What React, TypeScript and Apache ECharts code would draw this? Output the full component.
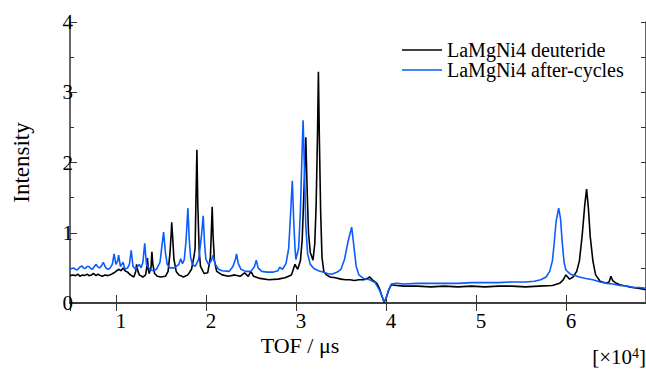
import React, { useEffect, useRef } from "react";
import * as echarts from "echarts";

const FONT = "Liberation Serif, Times New Roman, serif";

const seriesNames = ["LaMgNi4 deuteride", "LaMgNi4 after-cycles"];
const xTitle = "TOF / μs";
const yTitle = "Intensity";

// TOF (x10^4 μs), intensity
const deuteride: [number, number][] = [
  [0.49, 0.39], [0.52, 0.40], [0.55, 0.39], [0.58, 0.41], [0.60, 0.38], [0.63, 0.40],
  [0.65, 0.39], [0.68, 0.41], [0.70, 0.39], [0.73, 0.40], [0.75, 0.42], [0.78, 0.39],
  [0.80, 0.41], [0.83, 0.39], [0.85, 0.38], [0.88, 0.40], [0.90, 0.39], [0.93, 0.40],
  [0.95, 0.41], [0.98, 0.43], [1.00, 0.45], [1.03, 0.48], [1.06, 0.46], [1.08, 0.50],
  [1.10, 0.46], [1.13, 0.44], [1.16, 0.40], [1.20, 0.37], [1.22, 0.45], [1.23, 0.55],
  [1.245, 0.45], [1.26, 0.40], [1.30, 0.37], [1.33, 0.40], [1.345, 0.52], [1.35, 0.64],
  [1.36, 0.48], [1.37, 0.42], [1.39, 0.50], [1.40, 0.73], [1.41, 0.55], [1.43, 0.42],
  [1.46, 0.38], [1.50, 0.37], [1.55, 0.38], [1.58, 0.45], [1.60, 0.70], [1.615, 1.00],
  [1.62, 1.15], [1.63, 0.95], [1.645, 0.62], [1.67, 0.45], [1.70, 0.40], [1.75, 0.37],
  [1.80, 0.40], [1.84, 0.48], [1.87, 0.68], [1.88, 0.78], [1.89, 1.50], [1.90, 2.18],
  [1.91, 1.40], [1.925, 0.75], [1.94, 0.52], [1.98, 0.42], [2.02, 0.43], [2.05, 0.65],
  [2.06, 1.00], [2.07, 1.37], [2.08, 0.95], [2.095, 0.60], [2.12, 0.45], [2.18, 0.40],
  [2.25, 0.38], [2.32, 0.40], [2.38, 0.38], [2.43, 0.43], [2.47, 0.38], [2.50, 0.45],
  [2.53, 0.38], [2.60, 0.35], [2.70, 0.33], [2.80, 0.34], [2.88, 0.36], [2.95, 0.40],
  [2.99, 0.55], [3.02, 0.48], [3.05, 0.60], [3.07, 0.90], [3.09, 1.60], [3.11, 2.36],
  [3.125, 1.60], [3.14, 1.00], [3.16, 0.72], [3.19, 0.61], [3.21, 0.85], [3.225, 1.40],
  [3.24, 2.40], [3.25, 3.29], [3.26, 2.40], [3.275, 1.30], [3.29, 0.65], [3.31, 0.45],
  [3.34, 0.40], [3.38, 0.37], [3.44, 0.36], [3.50, 0.34], [3.55, 0.33], [3.60, 0.33],
  [3.65, 0.32], [3.70, 0.33], [3.75, 0.33], [3.78, 0.34], [3.82, 0.37], [3.85, 0.33],
  [3.90, 0.28], [3.93, 0.20], [3.95, 0.12], [3.98, 0.01], [4.00, 0.06], [4.03, 0.18],
  [4.06, 0.26], [4.12, 0.25], [4.20, 0.24], [4.35, 0.24], [4.50, 0.23], [4.65, 0.24],
  [4.80, 0.23], [4.95, 0.24], [5.10, 0.23], [5.25, 0.24], [5.40, 0.24], [5.55, 0.23],
  [5.70, 0.24], [5.85, 0.25], [5.93, 0.28], [5.97, 0.33], [6.00, 0.40], [6.02, 0.37],
  [6.04, 0.34], [6.08, 0.37], [6.12, 0.45], [6.15, 0.60], [6.18, 0.95], [6.21, 1.40],
  [6.23, 1.62], [6.25, 1.35], [6.27, 0.95], [6.30, 0.60], [6.33, 0.40], [6.38, 0.31],
  [6.45, 0.28], [6.48, 0.30], [6.50, 0.38], [6.52, 0.32], [6.56, 0.28], [6.60, 0.26],
  [6.70, 0.23], [6.80, 0.21], [6.89, 0.19],
];

const afterCycles: [number, number][] = [
  [0.49, 0.48], [0.51, 0.49], [0.53, 0.50], [0.55, 0.48], [0.57, 0.47], [0.60, 0.51],
  [0.62, 0.53], [0.64, 0.50], [0.66, 0.49], [0.68, 0.52], [0.70, 0.52], [0.72, 0.49],
  [0.74, 0.48], [0.76, 0.52], [0.78, 0.55], [0.80, 0.51], [0.82, 0.50], [0.84, 0.53],
  [0.86, 0.58], [0.88, 0.52], [0.89, 0.50], [0.91, 0.48], [0.93, 0.49], [0.96, 0.55],
  [0.98, 0.70], [1.00, 0.55], [1.02, 0.60], [1.03, 0.68], [1.05, 0.52], [1.08, 0.58],
  [1.10, 0.48], [1.13, 0.50], [1.15, 0.55], [1.17, 0.75], [1.19, 0.52], [1.22, 0.48],
  [1.26, 0.55], [1.28, 0.50], [1.30, 0.58], [1.32, 0.85], [1.34, 0.55], [1.38, 0.47],
  [1.42, 0.46], [1.45, 0.48], [1.49, 0.58], [1.51, 0.80], [1.53, 1.01], [1.55, 0.72],
  [1.57, 0.55], [1.60, 0.50], [1.65, 0.50], [1.70, 0.55], [1.72, 0.63], [1.74, 0.56],
  [1.76, 0.62], [1.78, 0.90], [1.80, 1.35], [1.815, 0.90], [1.83, 0.65], [1.85, 0.55],
  [1.88, 0.52], [1.92, 0.62], [1.95, 0.95], [1.97, 1.24], [1.985, 0.85], [2.00, 0.62],
  [2.03, 0.55], [2.06, 0.60], [2.08, 0.68], [2.10, 0.56], [2.14, 0.48], [2.18, 0.46],
  [2.26, 0.45], [2.30, 0.52], [2.33, 0.63], [2.34, 0.70], [2.36, 0.56], [2.39, 0.48],
  [2.44, 0.45], [2.50, 0.45], [2.54, 0.52], [2.56, 0.61], [2.58, 0.50], [2.62, 0.45],
  [2.68, 0.44], [2.75, 0.44], [2.80, 0.46], [2.82, 0.51], [2.85, 0.48], [2.89, 0.56],
  [2.92, 0.78], [2.94, 1.25], [2.96, 1.74], [2.975, 1.20], [2.99, 0.78], [3.00, 0.62],
  [3.03, 0.78], [3.05, 1.30], [3.065, 2.00], [3.08, 2.60], [3.095, 1.90], [3.11, 1.10],
  [3.13, 0.70], [3.16, 0.55], [3.20, 0.49], [3.25, 0.46], [3.30, 0.44], [3.35, 0.42],
  [3.40, 0.41], [3.46, 0.44], [3.50, 0.48], [3.54, 0.62], [3.58, 0.88], [3.62, 1.08],
  [3.645, 0.80], [3.67, 0.52], [3.70, 0.40], [3.75, 0.35], [3.82, 0.33], [3.88, 0.29],
  [3.93, 0.18], [3.98, 0.02], [4.00, 0.06], [4.03, 0.18], [4.06, 0.27], [4.12, 0.28],
  [4.20, 0.27], [4.35, 0.28], [4.50, 0.28], [4.65, 0.28], [4.80, 0.28], [4.95, 0.29],
  [5.10, 0.29], [5.25, 0.29], [5.40, 0.30], [5.55, 0.30], [5.65, 0.31], [5.72, 0.33],
  [5.78, 0.37], [5.82, 0.45], [5.85, 0.60], [5.87, 0.85], [5.89, 1.15], [5.92, 1.35],
  [5.94, 1.20], [5.96, 0.85], [5.98, 0.58], [6.00, 0.47], [6.05, 0.41], [6.10, 0.39],
  [6.15, 0.37], [6.22, 0.35], [6.30, 0.33], [6.38, 0.30], [6.45, 0.28], [6.52, 0.27],
  [6.60, 0.25], [6.68, 0.24], [6.75, 0.22], [6.82, 0.22], [6.89, 0.21],
];

const X_MIN = 0.49;
const X_MAX = 6.89;
const Y_MIN = 0;
const Y_MAX = 4;

export default function App() {
  const ref = useRef<HTMLDivElement>(null);

  useEffect(() => {
    if (!ref.current) return;
    const chart = echarts.init(ref.current, undefined, { renderer: "svg" });
    const axisColor = "#333";
    const intFmt = (v: number) => (Math.abs(v - Math.round(v)) < 1e-6 ? String(Math.round(v)) : "");
    chart.setOption({
      animation: false,
      backgroundColor: "#fff",
      textStyle: { fontFamily: FONT },
      grid: { left: 70, right: 0, top: 22, bottom: 66, containLabel: false, outerBoundsMode: "none" },
      legend: {
        left: 402,
        top: 40,
        orient: "vertical",
        padding: 0,
        itemGap: 0,
        itemWidth: 40,
        itemHeight: 1.5,
        icon: "rect",
        textStyle: { fontSize: 20, fontFamily: FONT, color: "#000", lineHeight: 20 },
        data: seriesNames,
      },
      xAxis: [
        {
          type: "value",
          min: X_MIN,
          max: X_MAX,
          splitNumber: 6,
          position: "bottom",
          name: xTitle,
          nameLocation: "middle",
          nameGap: 31,
          nameMoveOverlap: false,
          nameTextStyle: { fontSize: 22, fontFamily: FONT, color: "#000", padding: [0, 116, 0, 0] },
          axisLine: { show: true, lineStyle: { color: axisColor, width: 1.5 } },
          axisTick: { show: true, inside: true, length: 8, lineStyle: { color: axisColor } },
          axisLabel: {
            fontSize: 21, fontFamily: FONT, color: "#000", margin: 7,
            padding: [0, 0, 0, 10], formatter: intFmt, showMinLabel: false, showMaxLabel: false,
          },
          splitLine: { show: false },
        },
        {
          type: "value",
          min: X_MIN,
          max: X_MAX,
          splitNumber: 6,
          position: "top",
          axisLine: { show: true, lineStyle: { color: axisColor, width: 1.5 } },
          axisTick: { show: true, inside: true, length: 8, lineStyle: { color: axisColor } },
          axisLabel: { show: false },
          splitLine: { show: false },
        },
      ],
      yAxis: [
        {
          type: "value",
          min: Y_MIN,
          max: Y_MAX,
          interval: 1,
          position: "left",
          name: yTitle,
          nameLocation: "middle",
          nameGap: 37,
          nameMoveOverlap: false,
          nameTextStyle: { fontSize: 23, fontFamily: FONT, color: "#000" },
          axisLine: { show: true, lineStyle: { color: axisColor, width: 1.5 } },
          axisTick: { show: true, inside: true, length: 7, lineStyle: { color: axisColor } },
          minorTick: { show: true, splitNumber: 2, length: 4, lineStyle: { color: axisColor } },
          axisLabel: { fontSize: 21, fontFamily: FONT, color: "#000", margin: -3 },
          splitLine: { show: false },
        },
        {
          type: "value",
          min: Y_MIN,
          max: Y_MAX,
          interval: 1,
          position: "right",
          axisLine: { show: true, lineStyle: { color: axisColor, width: 1.5 } },
          axisTick: { show: true, inside: true, length: 5, lineStyle: { color: axisColor } },
          minorTick: { show: true, splitNumber: 2, length: 5, lineStyle: { color: axisColor } },
          axisLabel: { show: false },
          splitLine: { show: false },
        },
      ],
      graphic: [
        {
          type: "text",
          right: 0,
          top: 346,
          style: {
            text: "[×10{s|4}]",
            fontSize: 21,
            fontFamily: FONT,
            fill: "#000",
            rich: { s: { fontSize: 14, fontFamily: FONT, verticalAlign: "top", padding: [0, 0, 8, 0] } },
          },
        },
      ],
      series: [
        {
          name: seriesNames[0],
          type: "line",
          data: deuteride,
          showSymbol: false,
          symbol: "none",
          color: "#000000",
          lineStyle: { color: "#000000", width: 1.6 },
          xAxisIndex: 0,
          yAxisIndex: 0,
          z: 2,
        },
        {
          name: seriesNames[1],
          type: "line",
          data: afterCycles,
          showSymbol: false,
          symbol: "none",
          color: "#0a5cff",
          lineStyle: { color: "#0a5cff", width: 1.6 },
          xAxisIndex: 0,
          yAxisIndex: 0,
          z: 3,
        },
      ],
    });
    return () => chart.dispose();
  }, []);

  return (
    <div
      ref={ref}
      style={{ position: "fixed", left: 0, top: 0, width: 646, height: 369, background: "#fff" }}
    />
  );
}
